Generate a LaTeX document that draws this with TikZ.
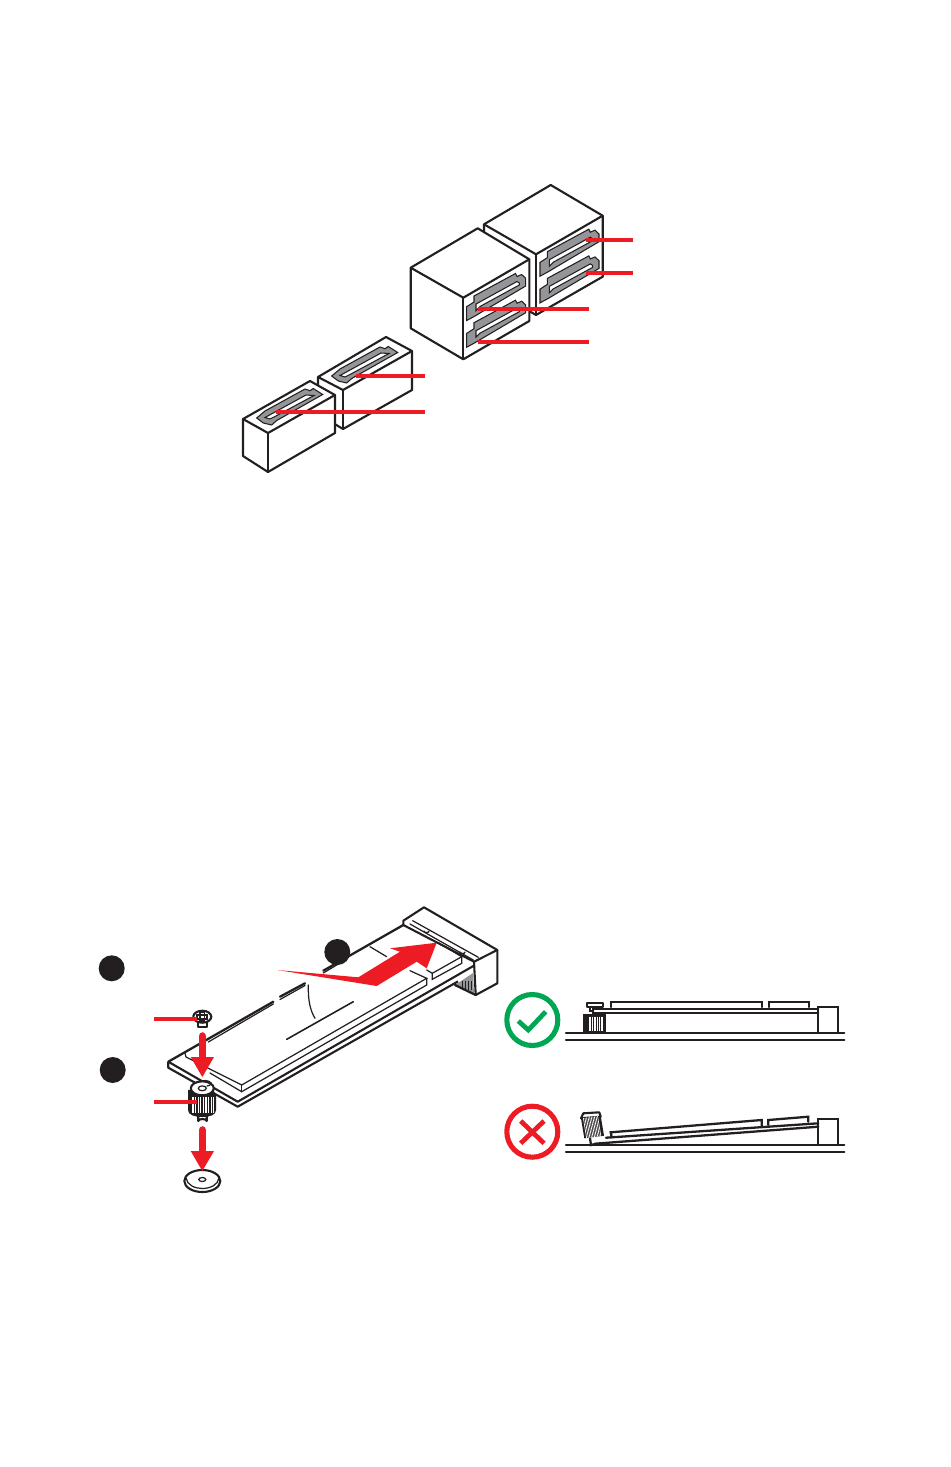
\documentclass[tikz,border=0pt]{standalone}
\usetikzlibrary{positioning,calc}
\definecolor{msired}{HTML}{ED1C24}
\definecolor{msigreen}{HTML}{00A651}
\definecolor{slotgray}{HTML}{939598}
\definecolor{inkblack}{HTML}{231F20}
\tikzset{
  outline/.style={draw=inkblack,line width=1.2pt,line join=round,fill=white},
  thinline/.style={draw=inkblack,line width=0.7pt,line cap=round},
  edgeline/.style={draw=inkblack,line width=1.3pt,line cap=round},
  callout/.style={draw=msired,line width=2.2pt},
  blackdot/.style={circle,fill=inkblack,minimum size=0.52cm,inner sep=0pt},
  slotfill/.style={fill=slotgray,draw=inkblack,line width=0.6pt,even odd rule},
  fitmark/.style={circle,line width=2.9pt,minimum size=1.02cm,inner sep=0pt},
}
\begin{document}
\begin{tikzpicture}[x=0.02cm,y=-0.02cm]
\useasboundingbox (0,0) rectangle (950,1467);

% rear pair of low connectors
\draw[outline] (318,377) -- (386,337) -- (412,351) -- (412,390) -- (343,429) -- (318,414) -- cycle;
\draw[outline,fill=none] (318,377) -- (343,390) -- (412,351);
\draw[outline,fill=none] (343,390) -- (343,429);
\draw[outline] (243,419) -- (310,381) -- (335,395) -- (335,433) -- (268,472) -- (243,456) -- cycle;
\draw[outline,fill=none] (243,419) -- (268,433) -- (335,395);
\draw[outline,fill=none] (268,433) -- (268,472);
\foreach \dx/\dy in {0/0,75/-42}{
\begin{scope}[shift={(\dx,\dy)}]
\draw[slotfill] (256.7,418) -- (265,411) -- (305,389) -- (310,390.7) -- (313.3,388.5) -- (322.7,394.5) -- (276.7,420.5) -- (271.7,425) -- (263.3,423) -- cycle
  (265,417.5) -- (306,395) -- (314,395.5) -- (275,416.5) -- (270,419) -- cycle;
\end{scope}
}

% stacked connectors
\draw[outline] (484,224.3) -- (550.7,185) -- (602.7,215.7) -- (602.7,276.7) -- (536,315) -- (484,285) -- cycle;
\draw[outline,fill=none] (484,224.3) -- (536,254.3) -- (602.7,215.7);
\draw[outline,fill=none] (536,254.3) -- (536,315);
\draw[outline] (410.7,267.7) -- (477.7,228.3) -- (529.3,259.3) -- (529.3,321) -- (463.3,359.3) -- (410.7,328.3) -- cycle;
\draw[outline,fill=none] (410.7,267.7) -- (463.3,297.7) -- (529.3,259.3);
\draw[outline,fill=none] (463.3,297.7) -- (463.3,359.3);
\foreach \dx/\dy in {0/0,0/26.7,73.3/-44.3,73.3/-17.6}{
\begin{scope}[shift={(\dx,\dy)}]
\draw[slotfill] (466.7,306.7) -- (474,302) -- (474,296) -- (515.5,273.5) -- (517,276.5) -- (521.7,274.5) -- (525.7,278.3) -- (525.7,286) -- (480,313) -- (475,316) -- (466.7,320.5) -- cycle
  (476,304) -- (517,281.5) -- (519.3,283) -- (519.3,285) -- (480,306.5) -- (476,310.5) -- cycle;
\end{scope}
}
\foreach \xa/\xb/\yy in {586/633/240,586/633/273,478/589/309,478/589/342,356/425/376,276/425/412}{
  \draw[callout] (\xa,\yy) -- (\xb,\yy);
}

% M.2 connector
\fill[slotgray] (455,985) -- (473,973) -- (474,994) -- cycle;
\foreach \x in {462,465,...,472}{
  \draw[draw=inkblack,line width=0.5pt] (\x,981) -- (\x,990);
}
\draw[edgeline] (455,985) -- (475.7,995);
\draw[outline] (403.3,920.7) -- (424,907.3) -- (497.3,950) -- (497.3,983.3) -- (475.7,995) -- (474,961.7) -- (403.3,925) -- cycle;
\draw[outline,fill=none] (474,961.7) -- (497.3,950);
\draw[thinline] (412.7,920.7) -- (478.3,957.3);
\draw[thinline] (410,924) -- (473.3,960);
\draw[thinline] (424,931) arc (180:0:2.5 and 1.6);
\draw[thinline] (460,952) arc (180:0:2.5 and 1.6);

% plate and card
\draw[outline,fill=none] (168.3,1061.7) -- (168.3,1067.7) -- (237.7,1106.7) -- (458,981.4);
\draw[outline,fill=none] (168.3,1061.7) -- (237.7,1101.7) -- (473.3,966);
\draw[edgeline] (168.3,1061.7) -- (273.3,1001.7);
\draw[edgeline] (280,996.7) -- (305,983.3);
\draw[edgeline] (323.3,970.7) -- (403.3,925);
\draw[thinline] (208.3,1042) -- (273.3,1004);
\draw[thinline] (280,999.5) -- (305,985.5);
\draw[thinline] (323.3,973) -- (340,963);
\draw[thinline] (185,1053.3) -- (186,1057) -- (241.7,1085) -- (426.7,978.3) -- (410,970.7);
\draw[thinline] (210,1073) -- (241.7,1091.7) -- (426.7,985) -- (426.7,978.3);
\draw[thinline] (241.7,1085) -- (241.7,1091.7);
\draw[thinline] (438.3,942.7) -- (461.7,956.7) -- (461.7,963.3) -- (432.3,979.3) -- (432.3,973.3) -- (426.7,970);
\draw[thinline] (432.3,973.3) -- (461.7,956.7);
\draw[thinline] (370,946.7) -- (386.7,956.7);
\draw[thinline,line width=0.9pt] (286.7,1039.3) -- (353.3,1001.7);
\draw[thinline] (308.3,985) .. controls (308,1000) and (310,1010) .. (315,1018.3);

% large arrow
\fill[msired] (277.3,970) -- (358.3,977.3) -- (400,951.7) -- (390,948.3) -- (436.7,942.7) -- (426.7,968.3) -- (416.7,961.7) -- (376.7,986) -- cycle;
\node[blackdot] (stepA) at (111.7,968.3) {};
\node[blackdot] (stepB) at (112.7,1070) {};
\node[blackdot] (stepC) at (337.3,952) {};

% screw
\draw[outline] (198.3,1021) -- (198.3,1027) -- (206.7,1027) -- (206.7,1021);
\draw[outline] (202.3,1016.7) ellipse (9 and 6);
\draw[thinline] (197,1015) rectangle (207,1019);
\draw[thinline] (200,1012.5) rectangle (204.5,1021);

% standoff
\draw[outline] (198.3,1115) -- (198.3,1121) arc (180:360:4.2 and 2) -- (206.7,1115);
\fill[inkblack] (188,1090) -- (188,1110) .. controls (188,1115) and (195,1117) .. (202,1117) .. controls (210,1117) and (216,1115) .. (216,1110) -- (216,1095) -- (212,1088) -- cycle;
\foreach \x in {193,195.6,...,214}{
  \draw[white,line width=0.6pt] (\x,1097) -- (\x,1113);
}
\draw[outline] (202.3,1088.3) ellipse (11.5 and 7);
\draw[thinline] (202.3,1088.3) ellipse (4 and 2.4);
\draw[thinline] (200,1081.5) .. controls (203,1080) and (209,1080) .. (211,1083) .. controls (211,1085) and (209,1086) .. (207,1086);

% washer
\draw[outline] (202.3,1181) ellipse (18 and 11);
\draw[thinline] (186,1178) .. controls (187,1185) and (195,1188.5) .. (202.3,1188.5) .. controls (210,1188.5) and (218,1185) .. (219,1178);
\draw[thinline] (202.3,1179.5) ellipse (3.5 and 2);

% small arrows
\foreach \yy in {1036,1130}{
  \draw[draw=msired,line width=4.3pt,line cap=round] (202.3,\yy) -- (202.3,\yy+22);
  \fill[msired] (190.7,\yy+21) -- (214,\yy+21) -- (202.3,\yy+41) -- cycle;
}
\foreach \yy in {1019,1101.7}{
  \draw[callout] (154.3,\yy) -- (197,\yy);
}

% correct fit
\node[fitmark,draw=msigreen] (okmark) at (532.3,1020) {};
\draw[draw=msigreen,line width=2.7pt] (518.3,1021) -- (528.3,1030) -- (545.7,1011.7);
\draw[edgeline] (566,1032.7) -- (844.3,1032.7);
\draw[edgeline] (566,1040) -- (844.3,1040);
\draw[edgeline] (818.3,1032.7) -- (818.3,1006.7) -- (838.3,1006.7) -- (838.3,1032.7);
\draw[edgeline] (818.3,1009) -- (593.3,1009) -- (593.3,1013.3) -- (818.3,1013.3);
\draw[edgeline] (610.7,1007) -- (610.7,1001.7) -- (761.7,1001.7) -- (761.7,1007);
\draw[edgeline] (769.3,1007) -- (769.3,1001.7) -- (809.3,1001.7) -- (809.3,1007);
\draw[edgeline] (590,1007.3) -- (590,1011) -- (593.3,1011);
\draw[outline] (586.7,1002.7) rectangle (603.3,1007.3);
\fill[inkblack] (583.3,1014.3) rectangle (606,1032.7);
\foreach \x in {589,590.7,...,604}{
  \draw[white,line width=0.4pt] (\x,1016.5) -- (\x,1031);
}

% wrong fit
\node[fitmark,draw=msired] (badmark) at (532.3,1131.7) {};
\draw[draw=msired,line width=2.7pt] (520.7,1121) -- (544,1143.3);
\draw[draw=msired,line width=2.7pt] (544,1121) -- (520.7,1143.3);
\draw[edgeline] (566,1145) -- (844.3,1145);
\draw[edgeline] (566,1151.7) -- (844.3,1151.7);
\draw[edgeline] (818.3,1145) -- (818.3,1119) -- (838.3,1119) -- (838.3,1145);
\draw[edgeline] (606,1137.7) -- (818.3,1123.3);
\draw[edgeline] (595,1143.7) -- (818.3,1126.7);
\draw[edgeline] (611.7,1137.3) -- (610.7,1132.3) -- (761.7,1120) -- (761.7,1126);
\draw[edgeline] (768.3,1125) -- (768.3,1120) -- (808.3,1116.7) -- (808.3,1121.7);
\draw[edgeline] (590,1138.3) -- (591,1145) -- (595,1144);
\draw[outline] (583.3,1113.3) -- (599.3,1112.3) -- (600.7,1116.7) -- (581,1118.3) -- cycle;
\fill[inkblack] (581,1118.3) -- (600.7,1115.7) -- (604,1135.7) -- (584.3,1138.3) -- cycle;
\foreach \s in {0.12,0.2,...,0.92}{
  \draw[white,line width=0.4pt] ($(581,1118.3)!\s!(600.7,1115.7)$) -- ($(584.3,1138.3)!\s!(604,1135.7)$);
}
\end{tikzpicture}
\end{document}
